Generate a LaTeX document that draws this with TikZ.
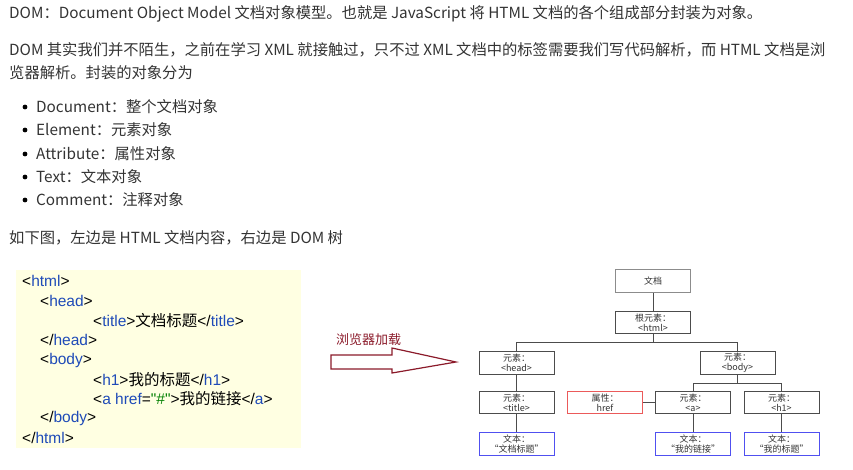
\documentclass[tikz,border=0pt]{standalone}
\usepackage{fontspec}
\setmainfont{Noto Sans CJK SC}
\newfontfamily\lat{Liberation Sans}
\begin{document}
\begin{tikzpicture}[x=1pt,y=-1pt,
  txt/.style={anchor=west,inner sep=0,font=\fontsize{15.3}{16}\selectfont,text=black!80},
  code/.style={anchor=west,inner sep=0,font=\fontsize{15.5}{16}\selectfont},
  tbox/.style={draw=black!70,line width=0.8pt,minimum width=75pt,minimum height=22.5pt,inner sep=0,align=center,font=\fontsize{9}{10}\selectfont,text=black!80},
  ln/.style={draw=black!70,line width=0.8pt}]
\useasboundingbox (0,0) rectangle (853,469);
\definecolor{tagc}{HTML}{1F4BB8}
\definecolor{arr}{HTML}{8B1A2A}
\def\t#1{{\color{tagc}\lat #1}}
\def\p#1{{\lat #1}}
% text
\node[txt] (l1) at (9,14) {DOM：Document Object Model 文档对象模型。也就是 JavaScript 将 HTML 文档的各个组成部分封装为对象。};
\node[txt] (l2) at (9,50) {DOM 其实我们并不陌生，之前在学习 XML 就接触过，只不过 XML 文档中的标签需要我们写代码解析，而 HTML 文档是浏};
\node[txt] (l3) at (9,73) {览器解析。封装的对象分为};
\foreach \y/\s [count=\i] in {107/Document：整个文档对象,130/Element：元素对象,154/Attribute：属性对象,177/Text：文本对象,200/Comment：注释对象}{
  \fill (25,\y) circle (2.4);
  \node[txt] (b\i) at (36,\y) {\s};
}
\node[txt] (l4) at (9,238) {如下图，左边是 HTML 文档内容，右边是 DOM 树};
% code box
\fill[fill={rgb,255:red,255;green,255;blue,226}] (16,270) rectangle (301,448);
\node[code] (c1) at (22,281) {\p{<}\t{html}\p{>}};
\node[code] (c2) at (40,301) {\p{<}\t{head}\p{>}};
\node[code] (c3) at (93,321) {\p{<}\t{title}\p{>}文档标题\p{</}\t{title}\p{>}};
\node[code] (c4) at (40,340) {\p{</}\t{head}\p{>}};
\node[code] (c5) at (40,360) {\p{<}\t{body}\p{>}};
\node[code] (c6) at (93,380) {\p{<}\t{h1}\p{>}我的标题\p{</}\t{h1}\p{>}};
\node[code] (c7) at (93,399) {\p{<}\t{a href}\p{=}{\lat\color{green!50!black}"\#"}\p{>}我的链接\p{</}\t{a}\p{>}};
\node[code] (c8) at (40,418) {\p{</}\t{body}\p{>}};
\node[code] (c9) at (22,438) {\p{</}\t{html}\p{>}};
% arrow
\node[anchor=west,inner sep=0,text=arr,font=\fontsize{13}{14}\selectfont] (al) at (336,340) {浏览器加载};
\draw[arr,line width=1.2pt,line join=miter] (331,355) -- (392,355) -- (392,348) -- (456,362) -- (392,373) -- (392,369) -- (331,369) -- cycle;
% tree
\node[tbox,draw=black!45,line width=1.2pt] (doc) at (653,281) {文档};
\node[tbox] (root) at (653,322.5) {根元素：\\<html>};
\node[tbox] (head) at (516.5,363) {元素：\\<head>};
\node[tbox] (body) at (737.5,363) {元素：\\<body>};
\node[tbox] (title) at (516.5,402.5) {元素：\\<title>};
\node[tbox,draw={rgb,255:red,235;green,90;blue,90}] (href) at (605,402.5) {属性：\\href};
\node[tbox] (a) at (693,402.5) {元素：\\<a>};
\node[tbox] (h1) at (781.5,402.5) {元素：\\<h1>};
\node[tbox,draw={rgb,255:red,80;green,80;blue,240}] (t1) at (516.5,444) {文本：\\“文档标题”};
\node[tbox,draw={rgb,255:red,80;green,80;blue,240}] (t2) at (693,444) {文本：\\“我的链接”};
\node[tbox,draw={rgb,255:red,80;green,80;blue,240}] (t3) at (781.5,444) {文本：\\“我的标题”};
\draw[ln] (doc) -- (root);
\draw[ln] (root.south) -- ++(0,8) -| (head.north);
\draw[ln] (root.south) ++(0,8) -| (body.north);
\draw[ln] (head) -- (title);
\draw[ln] (title) -- (t1);
\draw[ln] (body.south) -- ++(0,8.5) -| (a.north);
\draw[ln] (body.south) ++(0,8.5) -| (h1.north);
\draw[ln] (href) -- (a);
\draw[ln] (a) -- (t2);
\draw[ln] (h1) -- (t3);
\end{tikzpicture}
\end{document}
